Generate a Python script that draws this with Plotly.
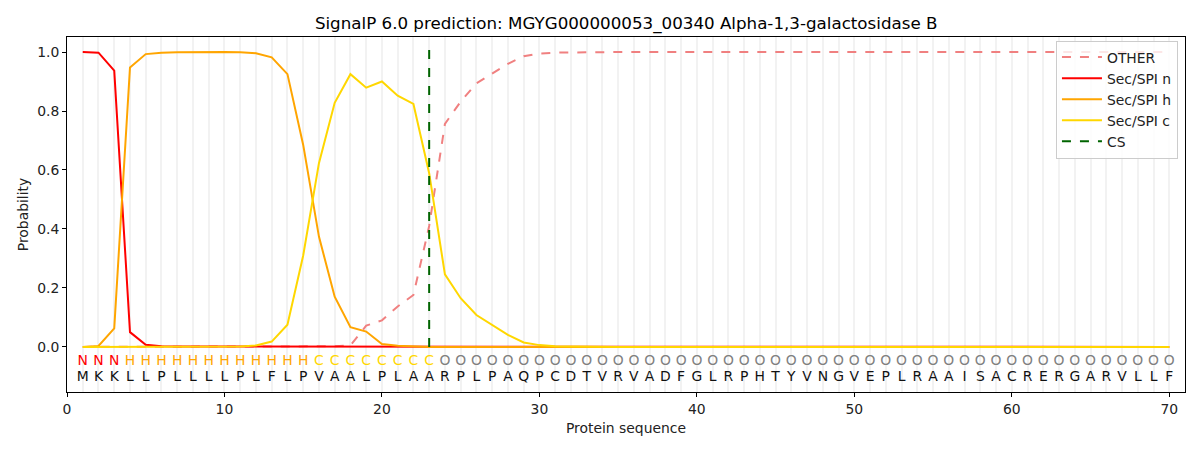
import plotly.graph_objects as go

sequence = "MKKLLPLLLLPLFLPVAALPLAARPLPAQPCDTVRVADFGLRPHTYVNGVEPLRAAISACRERGARVLLF"
labels = "NNNHHHHHHHHHHHHCCCCCCCCOOOOOOOOOOOOOOOOOOOOOOOOOOOOOOOOOOOOOOOOOOOOOOO"
positions = list(range(1, len(sequence) + 1))
cs_pos = 23

other = [0.0, 0.0, 0.0, 0.0, 0.0, 0.0, 0.0, 0.0, 0.0, 0.0,
         0.0, 0.0, 0.0, 0.0, 0.0, 0.001, 0.002, 0.005, 0.072, 0.09,
         0.137, 0.176, 0.41, 0.756, 0.832, 0.894, 0.928, 0.96, 0.986, 0.995,
         0.998, 0.999, 0.999, 0.999, 1.0, 1.0, 1.0, 1.0, 1.0, 1.0,
         1.0, 1.0, 1.0, 1.0, 1.0, 1.0, 1.0, 1.0, 1.0, 1.0,
         1.0, 1.0, 1.0, 1.0, 1.0, 1.0, 1.0, 1.0, 1.0, 1.0,
         1.0, 1.0, 1.0, 1.0, 1.0, 1.0, 1.0, 1.0, 1.0, 1.0]
sec_n = [1.0, 0.998, 0.937, 0.05, 0.007, 0.002, 0.001, 0.001, 0.001, 0.001,
         0.001, 0.001, 0.001, 0.001, 0.001, 0.001, 0.001, 0.0, 0.0, 0.0,
         0.0, 0.0, 0.0, 0.0, 0.0, 0.0, 0.0, 0.0, 0.0, 0.0,
         0.0, 0.0, 0.0, 0.0, 0.0, 0.0, 0.0, 0.0, 0.0, 0.0,
         0.0, 0.0, 0.0, 0.0, 0.0, 0.0, 0.0, 0.0, 0.0, 0.0,
         0.0, 0.0, 0.0, 0.0, 0.0, 0.0, 0.0, 0.0, 0.0, 0.0,
         0.0, 0.0, 0.0, 0.0, 0.0, 0.0, 0.0, 0.0, 0.0, 0.0]
sec_h = [0.0, 0.003, 0.063, 0.948, 0.993, 0.998, 0.999, 1.0, 1.0, 1.0,
         0.999, 0.996, 0.982, 0.925, 0.685, 0.374, 0.17, 0.067, 0.052, 0.01,
         0.004, 0.001, 0.0, 0.0, 0.0, 0.0, 0.0, 0.0, 0.0, 0.0,
         0.0, 0.0, 0.0, 0.0, 0.0, 0.0, 0.0, 0.0, 0.0, 0.0,
         0.0, 0.0, 0.0, 0.0, 0.0, 0.0, 0.0, 0.0, 0.0, 0.0,
         0.0, 0.0, 0.0, 0.0, 0.0, 0.0, 0.0, 0.0, 0.0, 0.0,
         0.0, 0.0, 0.0, 0.0, 0.0, 0.0, 0.0, 0.0, 0.0, 0.0]
sec_c = [0.0, 0.0, 0.0, 0.0, 0.0, 0.0, 0.0, 0.0, 0.0, 0.0,
         0.001, 0.005, 0.018, 0.075, 0.31, 0.623, 0.828, 0.925, 0.879, 0.9,
         0.852, 0.824, 0.589, 0.246, 0.165, 0.108, 0.075, 0.041, 0.015, 0.006,
         0.002, 0.001, 0.0, 0.0, 0.0, 0.0, 0.0, 0.0, 0.0, 0.0,
         0.0, 0.0, 0.0, 0.0, 0.0, 0.0, 0.0, 0.0, 0.0, 0.0,
         0.0, 0.0, 0.0, 0.0, 0.0, 0.0, 0.0, 0.0, 0.0, 0.0,
         0.0, 0.0, 0.0, 0.0, 0.0, 0.0, 0.0, 0.0, 0.0, 0.0]

label_colors = {"N": "#ff0000", "H": "#ffa500", "C": "#ffd700", "O": "#808080"}
FONT = "DejaVu Sans"
FS = 13.9

fig = go.Figure()
fig.add_trace(go.Scatter(x=positions, y=other, mode="lines", name="OTHER",
                         line=dict(color="#f08080", width=2, dash="dash")))
fig.add_trace(go.Scatter(x=positions, y=sec_n, mode="lines", name="Sec/SPI n",
                         line=dict(color="#ff0000", width=2)))
fig.add_trace(go.Scatter(x=positions, y=sec_h, mode="lines", name="Sec/SPI h",
                         line=dict(color="#ffa500", width=2)))
fig.add_trace(go.Scatter(x=positions, y=sec_c, mode="lines", name="Sec/SPI c",
                         line=dict(color="#ffd700", width=2)))
fig.add_trace(go.Scatter(x=[cs_pos, cs_pos], y=[0, 1.035], mode="lines", name="CS",
                         line=dict(color="#006400", width=2, dash="dash")))

fig.add_trace(go.Scatter(x=positions, y=[-0.048] * len(positions), mode="text",
                         text=list(labels), showlegend=False, hoverinfo="skip",
                         textfont=dict(family=FONT, size=FS,
                                       color=[label_colors[c] for c in labels])))
fig.add_trace(go.Scatter(x=positions, y=[-0.103] * len(positions), mode="text",
                         text=list(sequence), showlegend=False, hoverinfo="skip",
                         textfont=dict(family=FONT, size=FS, color="#111111")))

fig.update_layout(
    width=1200, height=450,
    margin=dict(l=67, r=15, t=37, b=58, autoexpand=False),
    paper_bgcolor="white", plot_bgcolor="white",
    font=dict(family=FONT, size=FS, color="#222222"),
    title=dict(text="SignalP 6.0 prediction: MGYG000000053_00340 Alpha-1,3-galactosidase B",
               x=0.5218, xanchor="center", y=0.948, yanchor="middle",
               font=dict(family=FONT, size=16.7, color="#000000")),
    legend=dict(x=0.9937, y=0.99, xanchor="right", yanchor="top",
                bgcolor="rgba(255,255,255,0.8)", bordercolor="#cccccc", borderwidth=1,
                font=dict(family=FONT, size=FS, color="#222222"),
                tracegroupgap=0, itemwidth=40),
    showlegend=True,
)
fig.update_xaxes(range=[0, 71], tickmode="array", tickvals=[0, 10, 20, 30, 40, 50, 60, 70],
                 ticks="outside", ticklen=4, tickcolor="black", automargin=False,
                 showline=True, linecolor="black", linewidth=1, mirror=True,
                 showgrid=True, gridcolor="#f2f2f2", gridwidth=1.5,
                 minor=dict(tickmode="linear", tick0=0, dtick=1, showgrid=True,
                            gridcolor="#f2f2f2", gridwidth=1.5, ticks=""),
                 zeroline=False,
                 title=dict(text="Protein sequence", font=dict(size=FS), standoff=7),
                 tickfont=dict(size=FS, color="#222222"))
fig.update_yaxes(range=[-0.153, 1.051], tickmode="array",
                 tickvals=[0, 0.2, 0.4, 0.6, 0.8, 1.0],
                 ticktext=["0.0", "0.2", "0.4", "0.6", "0.8", "1.0"],
                 ticks="outside", ticklen=4, tickcolor="black", automargin=False,
                 showline=True, linecolor="black", linewidth=1, mirror=True,
                 showgrid=False, zeroline=False,
                 title=dict(text="Probability", font=dict(size=FS), standoff=5),
                 tickfont=dict(size=FS, color="#222222"))

post = ("document.body.style.margin='0';document.body.style.padding='0';"
        "document.body.style.overflow='hidden';"
        "Plotly.Plots.resize(document.getElementById('{plot_id}'));")
fig.write_html("out.html", post_script=post, config={"displayModeBar": False})
